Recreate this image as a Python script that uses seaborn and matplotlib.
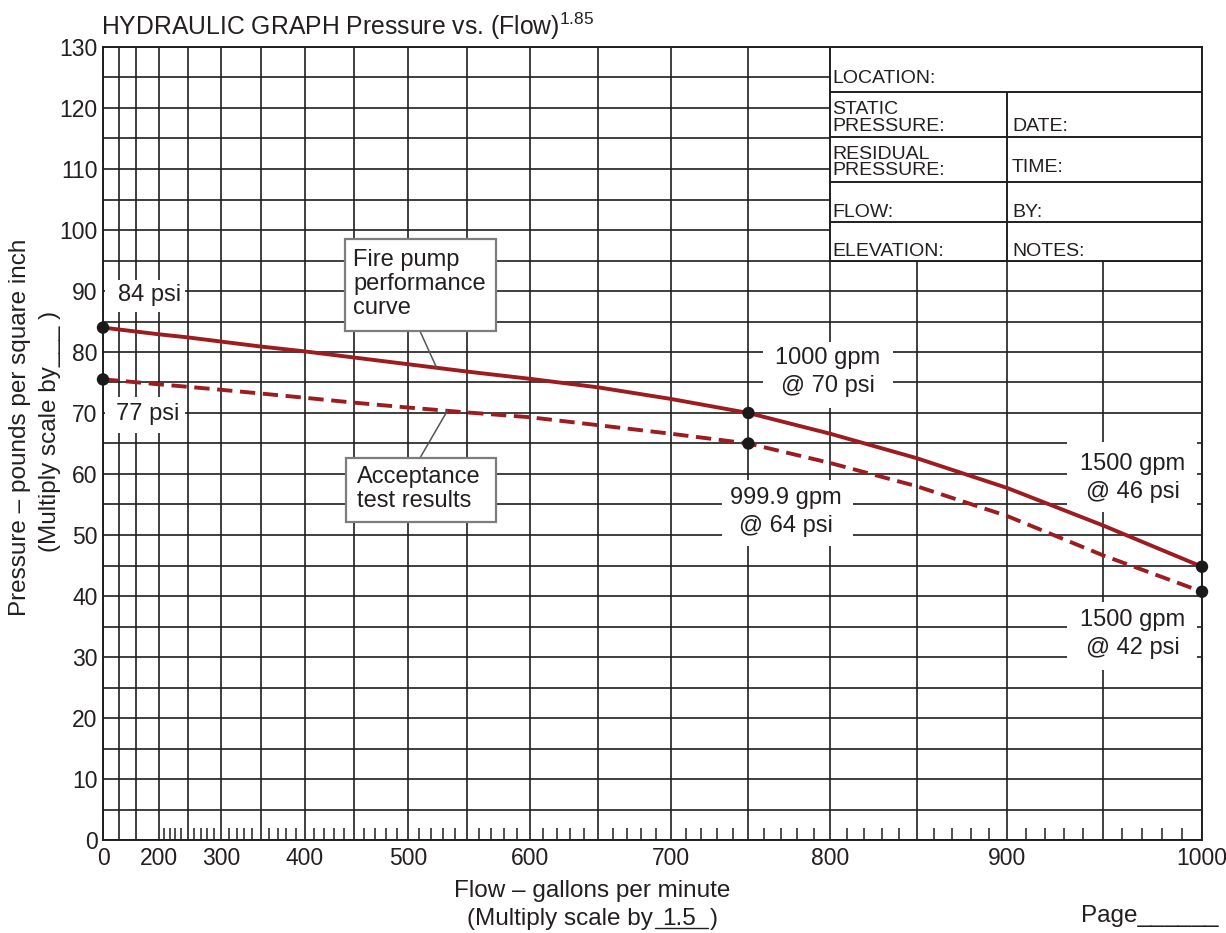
import numpy as np
import pandas as pd
import matplotlib
matplotlib.use("Agg")
import matplotlib.pyplot as plt
import seaborn as sns
from matplotlib.patches import Rectangle
from matplotlib.lines import Line2D

# ---------------- data ----------------
flow_gpm = [0, 100, 200, 250, 300, 350, 400, 450, 500, 550, 600, 650,
            700, 750, 800, 850, 900, 950, 1000]
pump_curve_psi = [84.0, 83.7, 82.9, 82.4, 81.7, 80.9, 80.1, 79.1, 78.0, 76.8,
                  75.6, 74.2, 72.3, 70.0, 66.6, 62.6, 57.7, 51.6, 44.8]
acceptance_psi = [75.5, 75.3, 74.7, 74.3, 73.8, 73.2, 72.5, 71.7, 70.9, 70.1,
                  69.3, 68.0, 66.6, 65.0, 61.8, 58.0, 53.1, 46.7, 40.7]

point_flow_gpm = [0, 750, 1000]
pump_point_psi = [84.0, 70.0, 44.8]
acceptance_point_psi = [75.5, 65.0, 40.7]

x_label_values = [0, 200, 300, 400, 500, 600, 700, 800, 900, 1000]
x_grid_values = [0, 100] + list(range(150, 1001, 50))
x_minor_values = [v for v in range(210, 1000, 10) if v % 50 != 0]
y_grid_values = list(range(0, 131, 5))
y_label_values = list(range(0, 131, 10))

point_labels = ["84 psi", "77 psi", "1000 gpm\n@ 70 psi", "999.9 gpm\n@ 64 psi",
                "1500 gpm\n@ 46 psi", "1500 gpm\n@ 42 psi"]
table_left_labels = ["LOCATION:", "STATIC\nPRESSURE:", "RESIDUAL\nPRESSURE:",
                     "FLOW:", "ELEVATION:"]
table_right_labels = ["DATE:", "TIME:", "BY:", "NOTES:"]

# ---------------- style ----------------
sns.set_style("white")
plt.rcParams["font.family"] = ["Liberation Sans", "DejaVu Sans"]
plt.rcParams["mathtext.fontset"] = "custom"
plt.rcParams["mathtext.rm"] = "Liberation Sans"
plt.rcParams["mathtext.it"] = "Liberation Sans:italic"
plt.rcParams["mathtext.bf"] = "Liberation Sans:bold"
plt.rcParams["lines.scale_dashes"] = False

RED = "#9d1c20"
GRID = "#1f1f1f"
TXT = "#231f20"
BOXEDGE = "#7d7d7d"

W, H = 1226, 933
fig = plt.figure(figsize=(W / 100, H / 100), dpi=100)
ax = fig.add_axes([103 / W, 1 - 840 / H, 1099 / W, 793 / H])

# ---------------- curves ----------------
df = pd.DataFrame({"flow": flow_gpm, "pump": pump_curve_psi, "accept": acceptance_psi})
sns.lineplot(data=df, x="flow", y="pump", ax=ax, color=RED, lw=2.8, zorder=3,
             clip_on=False)
sns.lineplot(data=df, x="flow", y="accept", ax=ax, color=RED, lw=2.8, zorder=3,
             linestyle=(0, (11, 5.5)), clip_on=False)
pts = pd.DataFrame({"flow": point_flow_gpm * 2,
                    "psi": pump_point_psi + acceptance_point_psi})
sns.scatterplot(data=pts, x="flow", y="psi", ax=ax, color="#1a1a1a", s=80,
                edgecolor="none", zorder=4, clip_on=False)

# ---------------- scale / ticks ----------------
fwd = lambda x: np.sign(x) * np.abs(x) ** 1.85
inv = lambda y: np.sign(y) * np.abs(y) ** (1 / 1.85)
ax.set_xscale("function", functions=(fwd, inv))
ax.set_xlim(0, 1000)
ax.set_ylim(0, 130)

ax.set_xticks(x_grid_values)
ax.set_xticklabels([str(v) if v in x_label_values else "" for v in x_grid_values])
ax.set_xticks(x_minor_values, minor=True)
ax.set_yticks(y_grid_values)
ax.set_yticklabels([str(v) if v in y_label_values else "" for v in y_grid_values])

ax.tick_params(axis="both", which="major", length=0, labelsize=16.5,
               labelcolor=TXT)
ax.tick_params(axis="x", which="major", pad=5)
ax.tick_params(axis="y", which="major", pad=4)
ax.tick_params(axis="x", which="minor", bottom=True, direction="in",
               length=9, width=1.1, color=GRID)
ax.set_xlabel("")
ax.set_ylabel("")

ax.grid(True, which="major", color=GRID, lw=1.2)
ax.set_axisbelow(True)
for sp in ax.spines.values():
    sp.set_visible(True)
    sp.set_color(GRID)
    sp.set_linewidth(1.4)

# ---------------- info table (upper right) ----------------
table_rows_psi = [130, 122.7, 115.3, 107.9, 101.3, 95]
ax.add_patch(Rectangle((800, 95), 200, 35, facecolor="white", edgecolor="none",
                       zorder=1))
ax.hlines(table_rows_psi, 800, 1000, colors=GRID, lw=1.4, zorder=2)
ax.vlines([800, 1000], 95, 130, colors=GRID, lw=1.4, zorder=2)
ax.vlines([900], 95, table_rows_psi[1], colors=GRID, lw=1.4, zorder=2)

trans = ax.transAxes
left_base = [0.9546, 0.8947, 0.8386, 0.7860, 0.7364]
right_base = [0.8945, 0.8427, 0.7860, 0.7364]
for lab, yb in zip(table_left_labels, left_base):
    ax.text(0.6633, yb, lab, transform=trans, ha="left", va="baseline",
            fontsize=14, color=TXT, linespacing=0.95, zorder=5)
for lab, yb in zip(table_right_labels, right_base):
    ax.text(0.8271, yb, lab, transform=trans, ha="left", va="baseline",
            fontsize=14, color=TXT, linespacing=0.95, zorder=5)

# ---------------- point labels on white boxes ----------------
label_boxes = [(0.0018, 0.6658, 0.0728, 0.0404),
               (0.0018, 0.5132, 0.0728, 0.0454),
               (0.6005, 0.5448, 0.1183, 0.0832),
               (0.5632, 0.3707, 0.1192, 0.0832),
               (0.8772, 0.4136, 0.1183, 0.0883),
               (0.8772, 0.2144, 0.1183, 0.0858)]
label_centers = [(0.0428, 0.6873), (0.0409, 0.5372), (0.6597, 0.5902),
                 (0.6215, 0.4136), (0.9372, 0.4565), (0.9372, 0.2598)]
for lab, box, cen in zip(point_labels, label_boxes, label_centers):
    ax.add_patch(Rectangle(box[:2], box[2], box[3], transform=trans,
                           facecolor="white", edgecolor="none", zorder=1))
    ax.text(cen[0], cen[1], lab, transform=trans, ha="center", va="center",
            multialignment="center", fontsize=17, color=TXT, linespacing=1.3,
            zorder=5)

# ---------------- callout boxes ----------------
ax.add_patch(Rectangle((0.2202, 0.6419), 0.1374, 0.1160, transform=trans,
                       facecolor="white", edgecolor=BOXEDGE, lw=1.6, zorder=5))
ax.text(0.2275, 0.7010, "Fire pump\nperformance\ncurve", transform=trans,
        ha="left", va="center", fontsize=17, color=TXT, linespacing=1.12,
        zorder=6)
ax.add_patch(Rectangle((0.2211, 0.4010), 0.1365, 0.0807, transform=trans,
                       facecolor="white", edgecolor=BOXEDGE, lw=1.6, zorder=5))
ax.text(0.2311, 0.4430, "Acceptance\ntest results", transform=trans,
        ha="left", va="center", fontsize=17, color=TXT, linespacing=1.12,
        zorder=6)

pump_anchor = 525
acc_anchor = 534
ax.annotate("", xy=(pump_anchor, np.interp(pump_anchor, flow_gpm, pump_curve_psi)),
            xycoords="data", xytext=(0.2884, 0.6419), textcoords="axes fraction",
            arrowprops=dict(arrowstyle="-", color="#555555", lw=1.1,
                            shrinkA=0, shrinkB=0), zorder=4)
ax.annotate("", xy=(acc_anchor, np.interp(acc_anchor, flow_gpm, acceptance_psi)),
            xycoords="data", xytext=(0.2884, 0.4817), textcoords="axes fraction",
            arrowprops=dict(arrowstyle="-", color="#555555", lw=1.1,
                            shrinkA=0, shrinkB=0), zorder=4)

# ---------------- titles / axis labels ----------------
fig.text(101 / W, 1 - 35 / H, r"HYDRAULIC GRAPH Pressure vs. (Flow)$^{1.85}$",
         ha="left", va="baseline", fontsize=17.8, color=TXT)

fig.text(592 / W, 1 - 891 / H, "Flow \u2013 gallons per minute", ha="center",
         va="center", fontsize=17.5, color=TXT)
fig.text(653 / W, 1 - 925 / H, "(Multiply scale by", ha="right", va="baseline",
         fontsize=17.5, color=TXT)
fig.text(679 / W, 1 - 925 / H, "1.5", ha="center", va="baseline",
         fontsize=17.5, color=TXT)
fig.text(710 / W, 1 - 925 / H, ")", ha="left", va="baseline",
         fontsize=17.5, color=TXT)
fig.add_artist(Line2D([655 / W, 708 / W], [1 - 928 / H, 1 - 928 / H],
                      transform=fig.transFigure, color=TXT, lw=1.0))

fig.text(20 / W, 1 - 427 / H, "Pressure \u2013 pounds per square inch",
         rotation=90, ha="center", va="center", fontsize=17.5, color=TXT)
fig.text(50 / W, 1 - 431 / H, "(Multiply scale by___ )", rotation=90,
         ha="center", va="center", fontsize=17.5, color=TXT)

fig.text(1081 / W, 1 - 922 / H, "Page______", ha="left", va="baseline",
         fontsize=17.5, color=TXT)

fig.savefig("out.png", dpi=100)
